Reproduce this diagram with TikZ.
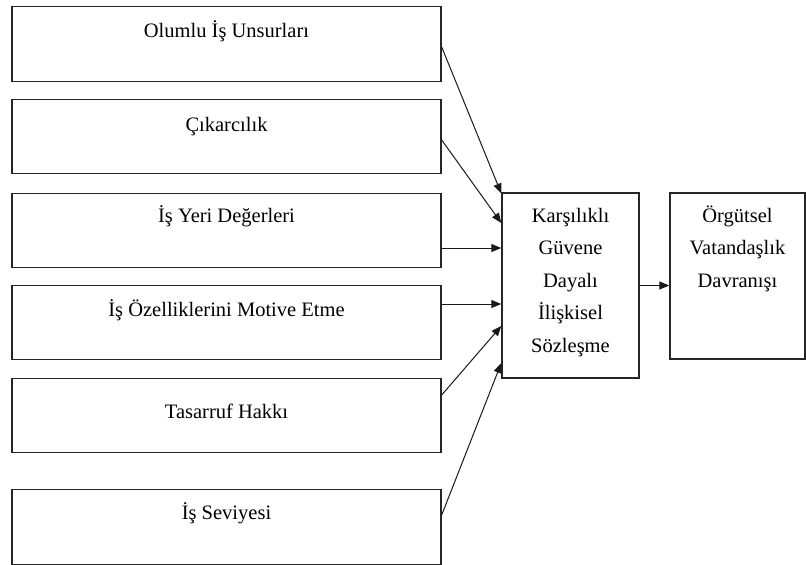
\documentclass[tikz,border=0pt]{standalone}
\usepackage{fontspec}
\setmainfont{Liberation Serif}
\usetikzlibrary{arrows.meta,calc}

\begin{document}
\begin{tikzpicture}[x=1pt,y=-1pt,
  box/.style={draw=black!85, line width=1.4pt, inner sep=0pt, fill=white},
  leftbox/.style={box, minimum width=429pt, minimum height=74.5pt},
  txt/.style={font=\fontsize{20.5}{32.5}\selectfont, anchor=base, align=center, inner sep=0pt},
  link/.style={draw=black!90, line width=1pt, -{Triangle[length=10pt,width=8pt]}}
]
\useasboundingbox (0,0) rectangle (806,565);

% input factors
\node[leftbox] (b1) at (226.5,44) {};
\node[leftbox] (b2) at (226.5,136.5) {};
\node[leftbox] (b3) at (226.5,230.5) {};
\node[leftbox] (b4) at (226.5,322.5) {};
\node[leftbox] (b5) at (226.5,415.5) {};
\node[leftbox] (b6) at (226.5,527) {};

\node[txt] (t1) at ($(b1.north)+(0,31)$) {Olumlu İş Unsurları};
\node[txt] (t2) at ($(b2.north)+(0,33)$) {Çıkarcılık};
\node[txt] (t3) at ($(b3.north)+(0,30)$) {İş Yeri Değerleri};
\node[txt] (t4) at ($(b4.north)+(0,32)$) {İş Özelliklerini Motive Etme};
\node[txt] (t5) at ($(b5.north)+(0,41)$) {Tasarruf Hakkı};
\node[txt] (t6) at ($(b6.north)+(0,30)$) {İş Seviyesi};

% mediator and outcome (base anchor sits on the last line)
\node[box, minimum width=137pt, minimum height=185pt] (mid) at (570.5,285.5) {};
\node[txt] (tm) at ($(mid.north)+(0,160)$) {Karşılıklı\\Güvene\\Dayalı\\İlişkisel\\Sözleşme};

\node[box, minimum width=135pt, minimum height=166pt] (out) at (737.5,276) {};
\node[txt] (to) at ($(out.north)+(0,95)$) {Örgütsel\\Vatandaşlık\\Davranışı};

% connectors
\draw[link] ($(b1.east)+(0,3)$) -- ($(mid.west)+(0,-92)$);
\draw[link] ($(b2.east)+(0,3.5)$) -- ($(mid.west)+(0,-62.5)$);
\draw[link] ($(b3.east)+(0,17.5)$) -- ($(mid.west)+(0,-37.5)$);
\draw[link] ($(b4.east)+(0,-18.5)$) -- ($(mid.west)+(0,18.5)$);
\draw[link] ($(b5.east)+(0,-20.5)$) -- ($(mid.west)+(0,40.5)$);
\draw[link] ($(b6.east)+(0,-12)$) -- ($(mid.west)+(0,77.5)$);
\draw[link] (mid.east) -- (mid.east -| out.west);
\end{tikzpicture}
\end{document}
